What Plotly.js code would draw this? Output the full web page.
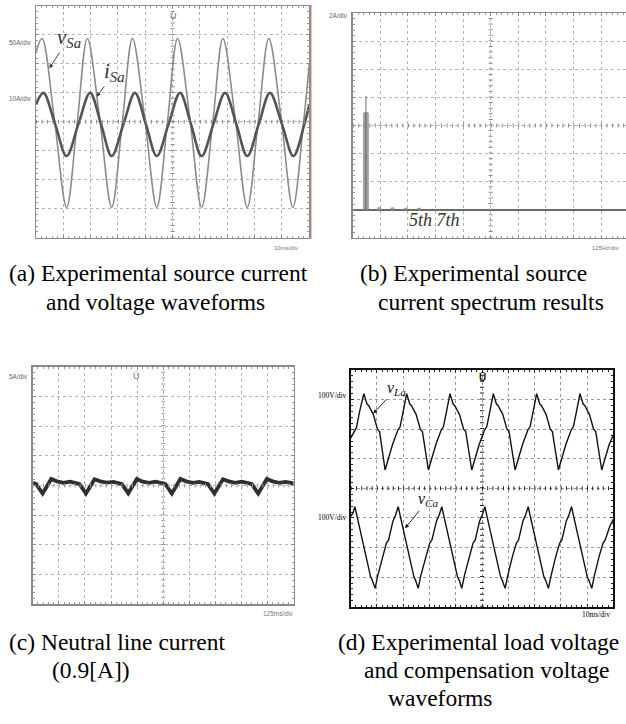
<!DOCTYPE html>
<html><head><meta charset="utf-8">
<script src="https://cdn.plot.ly/plotly-3.0.1.min.js"></script>
<style>html,body{margin:0;padding:0;background:#fff}#chart{width:626px;height:724px}</style>
</head><body><div id="chart"></div>
<script>
// ---------- (a) source voltage & current (time and amplitude in scope divisions, 10 ms/div) ----------
const tVSa = [0, 0.22, 0.66, 1.12, 1.50, 1.88, 2.32, 2.77, 3.15, 3.53, 3.97, 4.42, 4.80, 5.18, 5.62, 6.06, 6.46, 6.84, 7.28, 7.73, 8.12, 8.52, 8.96, 9.40, 9.78, 10];
const vSa  = [2.4, 2.88, 0.2, -2.95, -0.1, 2.88, 0.2, -2.95, -0.1, 2.88, 0.2, -2.95, -0.1, 2.88, 0.2, -2.95, -0.1, 2.88, 0.2, -2.95, -0.1, 2.88, 0.2, -2.95, -0.1, 2.0];
const tISa = [0, 0.27, 0.70, 1.12, 1.55, 1.98, 2.38, 2.77, 3.20, 3.62, 4.02, 4.42, 4.85, 5.27, 5.67, 6.06, 6.49, 6.92, 7.33, 7.73, 8.15, 8.56, 9.00, 9.42, 9.82, 10];
const iSa  = [0.6, 1.0, -0.08, -1.18, -0.08, 1.0, -0.08, -1.18, -0.08, 1.0, -0.08, -1.18, -0.08, 1.0, -0.08, -1.18, -0.08, 1.0, -0.08, -1.18, -0.08, 1.0, -0.08, -1.18, -0.08, 0.6];

// ---------- (b) source current spectrum (Hz, A; 125 Hz/div, 2 A/div) ----------
const specHz    = [60, 120, 180, 240, 300];
const specBodyA = [6.9, 0.14, 0.12, 0.10, 0.10];
const specPeakA = [8.1, 0.14, 0.12, 0.10, 0.10];

// ---------- (c) neutral line current (divisions) ----------
const tN = [0, 0.13, 0.38, 0.71, 0.93, 1.18, 1.43, 1.63, 1.79,
            2.04, 2.37, 2.59, 2.84, 3.09, 3.29, 3.41,
            3.66, 3.99, 4.21, 4.46, 4.71, 4.91, 5.08,
            5.33, 5.66, 5.88, 6.13, 6.38, 6.58, 6.71,
            6.96, 7.29, 7.51, 7.76, 8.01, 8.21, 8.39,
            8.64, 8.97, 9.19, 9.44, 9.69, 9.89, 10];
const iN = [0.08, 0.05, -0.27, 0.22, 0.14, 0.09, 0.13, 0.08, 0.05,
            -0.27, 0.21, 0.14, 0.10, 0.12, 0.08, 0.05,
            -0.26, 0.22, 0.13, 0.09, 0.13, 0.07, 0.05,
            -0.27, 0.22, 0.14, 0.09, 0.12, 0.08, 0.05,
            -0.27, 0.21, 0.14, 0.09, 0.13, 0.08, 0.05,
            -0.27, 0.22, 0.14, 0.09, 0.12, 0.08, 0.07];

// ---------- (d) load voltage and compensation voltage (divisions, 10 ms/div, 100 V/div) ----------
const tLa = [0, 0.14, 0.22, 0.34, 0.50, 0.62, 0.68, 0.86, 1.02, 1.10, 1.31,
             1.45, 1.60, 1.80, 1.88, 2.00, 2.13, 2.25, 2.31, 2.49, 2.65, 2.73, 2.96,
             3.10, 3.25, 3.45, 3.53, 3.65, 3.78, 3.90, 3.96, 4.14, 4.30, 4.38, 4.61,
             4.75, 4.90, 5.10, 5.18, 5.30, 5.43, 5.55, 5.61, 5.79, 5.95, 6.03, 6.26,
             6.40, 6.55, 6.75, 6.83, 6.95, 7.08, 7.20, 7.26, 7.44, 7.60, 7.68, 7.91,
             8.05, 8.20, 8.40, 8.48, 8.60, 8.73, 8.85, 8.91, 9.09, 9.25, 9.33, 9.56,
             9.70, 9.85, 10];
const vLa = [1.7, 1.93, 2.06, 2.6, 3.2, 2.85, 2.8, 2.5, 2.0, 1.92, 0.62,
             1.05, 1.5, 1.98, 2.08, 2.6, 3.2, 2.85, 2.8, 2.5, 2.0, 1.92, 0.62,
             1.05, 1.5, 1.98, 2.08, 2.6, 3.2, 2.85, 2.8, 2.5, 2.0, 1.92, 0.62,
             1.05, 1.5, 1.98, 2.08, 2.6, 3.2, 2.85, 2.8, 2.5, 2.0, 1.92, 0.62,
             1.05, 1.5, 1.98, 2.08, 2.6, 3.2, 2.85, 2.8, 2.5, 2.0, 1.92, 0.62,
             1.05, 1.5, 1.98, 2.08, 2.6, 3.2, 2.85, 2.8, 2.5, 2.0, 1.92, 0.62,
             1.05, 1.5, 1.8];
const tCa = [0, 0.08, 0.16, 0.24, 0.30, 0.46, 0.66, 0.76, 0.82, 0.93, 1.03, 1.21, 1.36, 1.44, 1.61, 1.71,
             1.81, 1.89, 1.95, 2.11, 2.31, 2.41, 2.47, 2.57, 2.67, 2.86, 3.01, 3.09, 3.27, 3.37,
             3.47, 3.55, 3.61, 3.77, 3.97, 4.07, 4.13, 4.23, 4.33, 4.51, 4.66, 4.74, 4.91, 5.01,
             5.11, 5.19, 5.25, 5.41, 5.61, 5.71, 5.77, 5.88, 5.98, 6.16, 6.31, 6.39, 6.56, 6.66,
             6.76, 6.84, 6.90, 7.06, 7.26, 7.36, 7.42, 7.53, 7.63, 7.81, 7.96, 8.04, 8.21, 8.31,
             8.41, 8.49, 8.55, 8.71, 8.91, 9.01, 9.07, 9.18, 9.28, 9.46, 9.61, 9.69, 9.86, 10];
const vCa = [-0.95, -0.85, -0.62, -0.95, -1.2, -1.8, -2.6, -3.0, -3.1, -3.38, -2.95, -2.3, -1.85, -1.75, -1.1, -0.9,
             -0.62, -0.95, -1.2, -1.8, -2.6, -3.0, -3.1, -3.38, -2.95, -2.3, -1.85, -1.75, -1.1, -0.9,
             -0.62, -0.95, -1.2, -1.8, -2.6, -3.0, -3.1, -3.38, -2.95, -2.3, -1.85, -1.75, -1.1, -0.9,
             -0.62, -0.95, -1.2, -1.8, -2.6, -3.0, -3.1, -3.38, -2.95, -2.3, -1.85, -1.75, -1.1, -0.9,
             -0.62, -0.95, -1.2, -1.8, -2.6, -3.0, -3.1, -3.38, -2.95, -2.3, -1.85, -1.75, -1.1, -0.9,
             -0.62, -0.95, -1.2, -1.8, -2.6, -3.0, -3.1, -3.38, -2.95, -2.3, -1.85, -1.75, -1.3, -1.05];

// ---------- text ----------
const capA = ["(a) Experimental source current", "and voltage waveforms"];
const capB = ["(b) Experimental source", "current spectrum results"];
const capC = ["(c) Neutral line current", "(0.9[A])"];
const capD = ["(d) Experimental load voltage", "and compensation voltage", "waveforms"];
const scaleLabels = {a: ["50A/div", "10A/div", "10ms/div"], b: ["2A/div", "125Hz/div"], c: ["5A/div", "125ms/div"], d: ["100V/div", "100V/div", "10ms/div"]};

// ---------- layout helpers ----------
const W = 626, H = 724;
const px = x => x / W;
const py = y => 1 - y / H;
const SERIF = "Liberation Serif, Times New Roman, serif";
const SANS = "Liberation Sans, Arial, sans-serif";

function ax(domain, range, dtick, minor, anchor, o) {
  o = o || {};
  return {
    domain: domain, range: range, anchor: anchor, fixedrange: true,
    dtick: dtick, tick0: o.tick0 !== undefined ? o.tick0 : range[0],
    showgrid: true, gridcolor: o.grid || '#b5b5b5', griddash: 'dot', gridwidth: 1,
    zeroline: false, showticklabels: false,
    showline: true, linecolor: o.line || '#8a8a8a', linewidth: o.lw || 1.5,
    mirror: o.mirror === undefined ? 'allticks' : o.mirror,
    ticks: 'inside', ticklen: 3, tickwidth: 1, tickcolor: o.tick || '#8a8a8a',
    minor: {dtick: minor, tick0: o.tick0 !== undefined ? o.tick0 : range[0], ticks: 'inside', ticklen: 2, tickwidth: 1, tickcolor: o.tick || '#999', showgrid: false}
  };
}

const bRange = 1250 * (W - 352.7) / 276;
const layout = {
  width: W, height: H, margin: {l: 0, r: 0, t: 0, b: 0},
  paper_bgcolor: '#fff', plot_bgcolor: '#fff', showlegend: false,
  xaxis:  ax([px(36), px(309.3)], [0, 10], 1, 0.2, 'y'),
  yaxis:  ax([py(237.7), py(6)], [-4, 4], 1, 0.2, 'x'),
  xaxis2: ax([px(352.7), 1], [0, bRange], 125, 25, 'y2', {tick0: 0}),
  yaxis2: ax([py(237.7), py(13.3)], [-2, 14], 2, 0.4, 'x2', {mirror: false, tick0: -2}),
  xaxis3: ax([px(32.7), px(293.7)], [0, 10], 1, 0.2, 'y3'),
  yaxis3: ax([py(604.3), py(366.7)], [-4, 4], 1, 0.2, 'x3'),
  xaxis4: ax([px(350.7), px(613.3)], [0, 10], 1, 0.2, 'y4', {line: '#111', lw: 2, tick: '#222', grid: '#9a9a9a'}),
  yaxis4: ax([py(606.7), py(370)], [-4, 4], 1, 0.2, 'x4', {line: '#111', lw: 2, tick: '#222', grid: '#9a9a9a'}),
  shapes: [], annotations: []
};
layout.yaxis2.zeroline = true; layout.yaxis2.zerolinecolor = '#6a6a6a'; layout.yaxis2.zerolinewidth = 2;

// centre-line tick rows (scope graticule)
function centreTicks(xr, yr, xc, yc, x0, x1, y0, y1, hsp, vsp, col) {
  layout.shapes.push({type: 'line', xref: xr, yref: yr, x0: x0, x1: x1, y0: yc, y1: yc,
    line: {color: col, width: 4, dash: '1px,' + (hsp - 1).toFixed(2) + 'px'}});
  layout.shapes.push({type: 'line', xref: xr, yref: yr, x0: xc, x1: xc, y0: y0, y1: y1,
    line: {color: col, width: 4, dash: '1px,' + (vsp - 1).toFixed(2) + 'px'}});
}
centreTicks('x', 'y', 5, 0, 0, 10, -4, 4, 5.47, 5.79, '#8a8a8a');
centreTicks('x2', 'y2', 625, 6, 0, bRange, -2, 14, 5.52, 5.61, '#8a8a8a');
centreTicks('x3', 'y3', 5, 0, 0, 10, -4, 4, 5.22, 5.94, '#9a9a9a');
centreTicks('x4', 'y4', 5, 0, 0, 10, -4, 4, 5.25, 5.92, '#222');
// red edge line at the right of panel (a)
layout.shapes.push({type: 'line', xref: 'paper', yref: 'paper', x0: px(311), x1: px(311), y0: py(239), y1: py(5), line: {color: '#e47a7a', width: 1}});

const A = layout.annotations;
function txt(x, y, t, size, o) {
  o = o || {};
  A.push(Object.assign({xref: 'paper', yref: 'paper', x: px(x), y: py(y), text: t, showarrow: false,
    xanchor: 'left', yanchor: 'middle', font: {family: o.family || SERIF, size: size, color: o.color || '#000'}}, o.extra || {}));
}
// label with an arrow: head at data point (x, y), label centre offset (dx, dy) px from the head
function label(xr, yr, x, y, dx, dy, t, size, col) {
  A.push({xref: xr, yref: yr, x: x, y: y, ax: dx, ay: dy, text: t, showarrow: true, standoff: 0,
    arrowhead: 2, arrowsize: 0.9, arrowwidth: 0.9, arrowcolor: col,
    font: {family: SERIF, size: size, color: col}});
}

// captions
const CAP = 23.5;
txt(6.5, 273, capA[0], CAP); txt(44, 302, capA[1], CAP);
txt(358, 273, capB[0], CAP); txt(376, 302, capB[1], CAP);
txt(6.5, 642, capC[0], CAP); txt(50, 670, capC[1], CAP);
txt(336, 642, capD[0], CAP); txt(362, 670, capD[1], CAP); txt(386, 698, capD[2], CAP);

// scale labels
txt(7, 43, scaleLabels.a[0], 6.5, {family: SANS, color: '#666'});
txt(7, 98, scaleLabels.a[1], 6.5, {family: SANS, color: '#666'});
txt(300, 248, scaleLabels.a[2], 6, {family: SANS, color: '#777', extra: {xanchor: 'right'}});
txt(327, 16, scaleLabels.b[0], 6.5, {family: SANS, color: '#666'});
txt(621, 248, scaleLabels.b[1], 6, {family: SANS, color: '#777', extra: {xanchor: 'right'}});
txt(7, 376, scaleLabels.c[0], 6.5, {family: SANS, color: '#666'});
txt(295, 613, scaleLabels.c[1], 6.5, {family: SANS, color: '#777', extra: {xanchor: 'right'}});
txt(349, 395, scaleLabels.d[0], 7.5, {extra: {xanchor: 'right'}});
txt(349, 517, scaleLabels.d[1], 7.5, {extra: {xanchor: 'right'}});
txt(612, 614, scaleLabels.d[2], 7.5, {extra: {xanchor: 'right'}});

// trigger markers
txt(173, 16, 'Ū', 9, {family: SANS, color: '#777', extra: {xanchor: 'center'}});
txt(136.7, 376, 'Ū', 9, {family: SANS, color: '#777', extra: {xanchor: 'center'}});
txt(482.7, 377, '<b>Ū</b>', 10, {family: SANS, color: '#111', extra: {xanchor: 'center'}});

// waveform labels with arrows
label('x', 'y', 0.49, 1.85, 19.7, -30.3, '<i>v</i><sub><i>Sa</i></sub>', 21, '#333');
label('x', 'y', 2.22, 0.87, 18.3, -24.7, '<i>i</i><sub><i>Sa</i></sub>', 21, '#333');
label('x4', 'y4', 0.86, 2.53, 23.7, -25.3, '<i>v</i><sub><i>La</i></sub>', 16, '#111');
label('x4', 'y4', 2.07, -1.35, 23, -28.3, '<i>v</i><sub><i>Ca</i></sub>', 16, '#111');
// harmonic orders
txt(434, 220, '<i>5th 7th</i>', 18, {color: '#333', extra: {xanchor: 'center'}});

const data = [
  {type: 'scatter', mode: 'lines', x: tVSa, y: vSa, xaxis: 'x', yaxis: 'y', line: {color: '#8c8c8c', width: 1.6, shape: 'spline', smoothing: 1}, hoverinfo: 'skip'},
  {type: 'scatter', mode: 'lines', x: tISa, y: iSa, xaxis: 'x', yaxis: 'y', line: {color: '#545454', width: 2.6, shape: 'spline', smoothing: 1}, hoverinfo: 'skip'},
  {type: 'bar', x: specHz, y: specBodyA, xaxis: 'x2', yaxis: 'y2', width: [20, 12, 12, 12, 12], marker: {color: '#b0b0b0', line: {color: '#8a8a8a', width: 1}}, hoverinfo: 'skip'},
  {type: 'bar', x: [specHz[0]], y: [specPeakA[0]], xaxis: 'x2', yaxis: 'y2', width: 3, marker: {color: '#222', line: {width: 0}}, hoverinfo: 'skip'},
  {type: 'scatter', mode: 'lines', x: tN, y: iN, xaxis: 'x3', yaxis: 'y3', line: {color: '#2e2e2e', width: 3.8}, hoverinfo: 'skip'},
  {type: 'scatter', mode: 'lines', x: tLa, y: vLa, xaxis: 'x4', yaxis: 'y4', line: {color: '#111', width: 1.4}, hoverinfo: 'skip'},
  {type: 'scatter', mode: 'lines', x: tCa, y: vCa, xaxis: 'x4', yaxis: 'y4', line: {color: '#111', width: 1.4}, hoverinfo: 'skip'}
];
layout.barmode = 'overlay';
Plotly.newPlot('chart', data, layout, {staticPlot: true});
</script></body></html>
